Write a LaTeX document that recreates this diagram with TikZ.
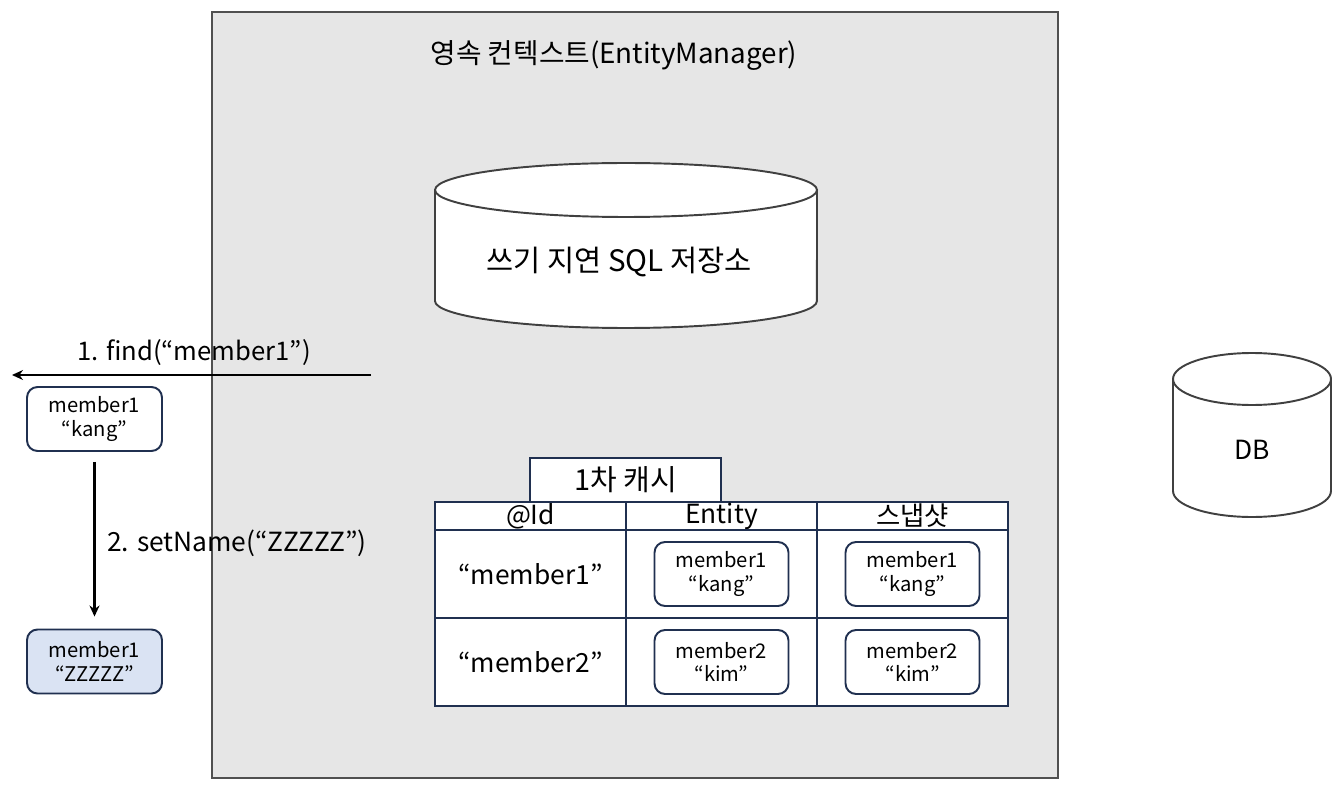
\documentclass[tikz,border=0pt]{standalone}
\usepackage{fontspec}
\setmainfont{Noto Sans CJK KR}
\usepackage{tikz}
\usetikzlibrary{arrows.meta, positioning}

\definecolor{ctxgray}{HTML}{E6E6E6}
\definecolor{edgegray}{HTML}{505050}
\definecolor{navy}{HTML}{203050}
\definecolor{paleblue}{HTML}{DAE3F3}

\begin{document}
\begin{tikzpicture}[
  x=0.02cm, y=-0.02cm,
  every node/.style={font=\fontsize{15}{18}\selectfont},
  entbox/.style={draw=navy, rounded corners=6pt, line width=1.1pt, fill=white, align=center,
    minimum width=2.68cm, minimum height=1.28cm, inner sep=2pt, font=\fontsize{11.5}{13.5}\selectfont},
  cell/.style={draw=navy, line width=1.3pt, fill=white, minimum width=3.82cm, inner sep=0pt},
  arrow/.style={-{Stealth[length=2.2mm, width=2mm]}, line width=1.4pt},
  cyl/.style={draw=black!75, line width=1.1pt, fill=white}
]
\useasboundingbox (0,0) rectangle (1341,790);

% --- Persistence context (background) ---
\draw[draw=edgegray, fill=ctxgray, line width=1.2pt] (212,12) rectangle (1058,778);
\node[font=\fontsize{15.8}{19}\selectfont] (ctxtitle) at (614,55) {영속 컨텍스트(EntityManager)};

% --- Write-behind SQL store ---
\filldraw[cyl] (435,190) -- (435,301) arc[start angle=180, end angle=360, x radius=3.82cm, y radius=0.54cm] -- (817,190) -- cycle;
\filldraw[cyl] (626,190) ellipse [x radius=3.82cm, y radius=0.54cm];
\node[font=\fontsize{16.8}{20}\selectfont] (sqlstore) at (619,262) {쓰기 지연 SQL 저장소};

% --- DB ---
\filldraw[cyl] (1173,379) -- (1173,491) arc[start angle=180, end angle=360, x radius=1.58cm, y radius=0.52cm] -- (1331,379) -- cycle;
\filldraw[cyl] (1252,379) ellipse [x radius=1.58cm, y radius=0.52cm];
\node (db) at (1252,450) {DB};

% --- First-level cache table ---
\node[cell, minimum width=3.82cm, minimum height=0.88cm, font=\fontsize{16.5}{19}\selectfont] (cachetab) at (625.5,480) {1차 캐시};

\node[cell, minimum height=0.56cm] (idhead)   at (530.5,516) {@Id};
\node[cell, minimum height=0.56cm] (enthead)  at (721.5,516) {Entity};
\node[cell, minimum height=0.56cm] (snaphead) at (912.5,516) {스냅샷};

\node[cell, minimum height=1.76cm] (id1)   at (530.5,574) {“member1”};
\node[cell, minimum height=1.76cm] (ent1)  at (721.5,574) {};
\node[cell, minimum height=1.76cm] (snap1) at (912.5,574) {};

\node[cell, minimum height=1.76cm] (id2)   at (530.5,662) {“member2”};
\node[cell, minimum height=1.76cm] (ent2)  at (721.5,662) {};
\node[cell, minimum height=1.76cm] (snap2) at (912.5,662) {};

\node[entbox] (entm1)  at (ent1)  {member1\\“kang”};
\node[entbox] (snapm1) at (snap1) {member1\\“kang”};
\node[entbox] (entm2)  at (ent2)  {member2\\“kim”};
\node[entbox] (snapm2) at (snap2) {member2\\“kim”};

% --- Client side ---
\coordinate (findstart) at (371,375);
\coordinate (findend)   at (12,375);
\draw[arrow] (findstart) -- (findend);
\node[font=\fontsize{14.6}{17}\selectfont] (findlbl) at (194,353) {1. find(“member1”)};

\node[entbox, minimum width=2.7cm] (kang) at (94.5,419) {member1\\“kang”};
\node[entbox, minimum width=2.7cm, fill=paleblue] (zzz) at (94.5,661.5) {member1\\“ZZZZZ”};

\draw[arrow, shorten <=0.2cm, shorten >=0.24cm] (kang) -- (zzz);
\node[anchor=west] (setlbl) at (101,543) {2. setName(“ZZZZZ”)};

\end{tikzpicture}
\end{document}
